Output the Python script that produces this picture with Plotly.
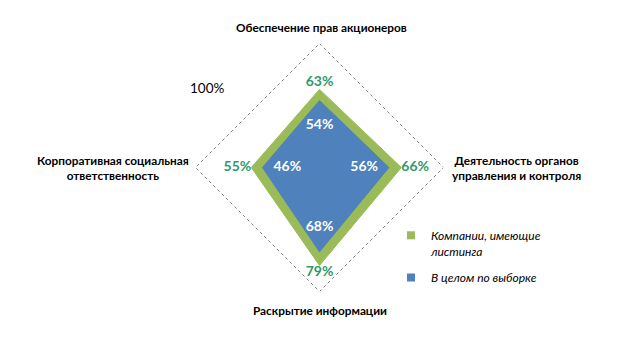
import plotly.graph_objects as go

categories = ["Обеспечение прав акционеров",
              "Деятельность органов<br>управления и контроля",
              "Раскрытие информации",
              "Корпоративная социальная<br>ответственность"]
listed = [0.63, 0.66, 0.79, 0.55]
sample = [0.54, 0.56, 0.68, 0.46]
listed_name = "Компании, имеющие<br>листинга"
sample_name = "В целом по выборке"

GREEN = "#9BBB59"
BLUE = "#4F81BD"
LABEL_GREEN = "#2E9A6A"
FONT = "Lato"

def close(v):
    return list(v) + [v[0]]

theta = close(categories)
fig = go.Figure()

# outer 100% boundary
fig.add_trace(go.Scatterpolar(r=close([1, 1, 1, 1]), theta=theta, mode="lines",
                              line=dict(color="black", width=1, dash="dot"),
                              showlegend=False, hoverinfo="skip"))
fig.add_trace(go.Scatterpolar(r=close(listed), theta=theta, mode="lines", fill="toself",
                              fillcolor=GREEN, line=dict(color=GREEN, width=1),
                              showlegend=False))
fig.add_trace(go.Scatterpolar(r=close(sample), theta=theta, mode="lines", fill="toself",
                              fillcolor=BLUE, line=dict(color=BLUE, width=1),
                              showlegend=False))
# labels
fig.add_trace(go.Scatterpolar(r=listed, theta=categories, mode="text",
                              text=[f"{round(v*100)}%" for v in listed],
                              textposition=["top center", "middle right", "bottom center", "middle left"],
                              textfont=dict(family=FONT, size=14, color=LABEL_GREEN, weight="bold"),
                              showlegend=False))
fig.add_trace(go.Scatterpolar(r=[v - 0.2 for v in sample], theta=categories, mode="text",
                              text=[f"{round(v*100)}%" for v in sample],
                              textposition="middle center",
                              textfont=dict(family=FONT, size=14, color="white", weight="bold"),
                              showlegend=False))
# legend entries
fig.add_trace(go.Scatterpolar(r=[None], theta=[categories[0]], mode="markers", name=listed_name,
                              marker=dict(symbol="square", size=8, color=GREEN),
                              legendgroup="a"))
fig.add_trace(go.Scatterpolar(r=[None], theta=[categories[0]], mode="markers", name=sample_name,
                              marker=dict(symbol="square", size=8, color=BLUE),
                              legendgroup="b"))

# category label placement (paper px: x, y of label centre)
label_pos = [(321, 28), (516, 168), (320, 310), (113, 168)]
cat_font = dict(family=FONT, size=11.8, weight="bold", color="black")
annotations = [dict(text=c, x=px/619, y=1-py/346, xref="paper", yref="paper",
                    xanchor="center", yanchor="middle", align="center",
                    showarrow=False, font=cat_font)
               for c, (px, py) in zip(categories, label_pos)]
annotations.append(dict(text="100%", x=207/619, y=1-88/346, xref="paper", yref="paper",
                        xanchor="center", yanchor="middle",
                        showarrow=False, font=dict(family=FONT, size=13.5, color="black")))

fig.update_layout(
    width=619, height=346,
    margin=dict(l=0, r=0, t=0, b=0),
    paper_bgcolor="white", plot_bgcolor="white",
    font=dict(family=FONT, color="black"),
    polar=dict(
        domain=dict(x=[195.5/619, 443.5/619], y=[(346-292.5)/346, (346-42.5)/346]),
        gridshape="linear",
        bgcolor="rgba(0,0,0,0)",
        radialaxis=dict(range=[0, 1], visible=False, showgrid=False),
        angularaxis=dict(rotation=90, direction="clockwise", showline=False, showgrid=False,
                         ticks="", showticklabels=False),
    ),
    legend=dict(x=391/619, y=1-221/346, xanchor="left", yanchor="top",
                font=dict(family=FONT, size=12, style="italic", color="black"),
                tracegroupgap=8, valign="top", bgcolor="rgba(0,0,0,0)"),
    annotations=annotations,
)

fig.write_html("out.html")
